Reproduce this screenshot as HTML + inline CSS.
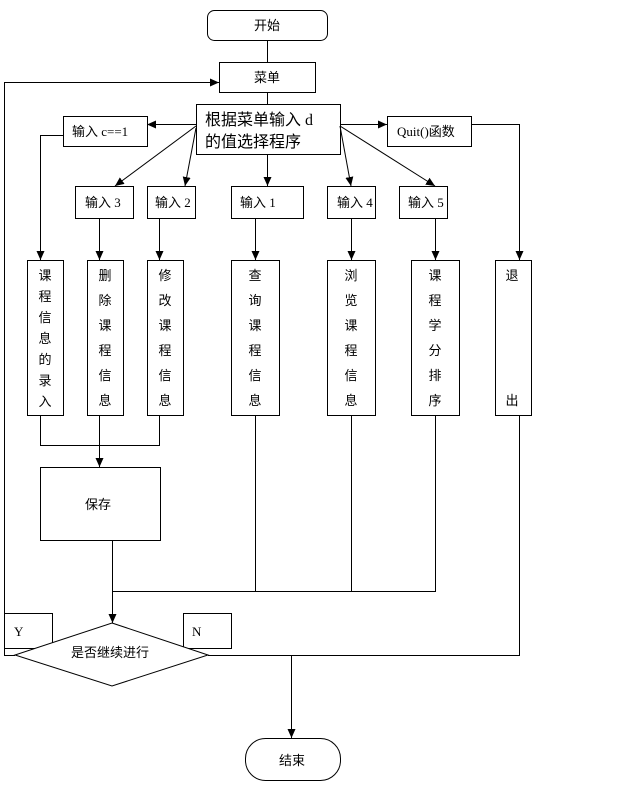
<!DOCTYPE html>
<html><head><meta charset="utf-8"><style>
body{margin:0;background:#fff;}
svg text{font-family:"Liberation Serif","Noto Sans CJK SC",serif;fill:#000;}
</style></head><body>
<svg width="627" height="783" viewBox="0 0 627 783" xmlns="http://www.w3.org/2000/svg">
<defs><marker id="a" markerWidth="10" markerHeight="10" refX="9" refY="5" orient="auto" markerUnits="userSpaceOnUse"><path d="M0,1 L9,5 L0,9 z" fill="#000"/></marker></defs>
<g stroke="#000" stroke-width="1" fill="#fff">
<rect x="207.5" y="10.5" width="120" height="30" rx="7"/>
<rect x="219.5" y="62.5" width="96" height="30"/>
<rect x="196.5" y="104.5" width="144" height="50"/>
<rect x="63.5" y="116.5" width="84" height="30"/>
<rect x="387.5" y="116.5" width="84" height="30"/>
<rect x="75.5" y="186.5" width="58" height="32"/>
<rect x="147.5" y="186.5" width="48" height="32"/>
<rect x="231.5" y="186.5" width="72" height="32"/>
<rect x="327.5" y="186.5" width="48" height="32"/>
<rect x="399.5" y="186.5" width="48" height="32"/>
<rect x="27.5" y="260.5" width="36" height="155"/>
<rect x="87.5" y="260.5" width="36" height="155"/>
<rect x="147.5" y="260.5" width="36" height="155"/>
<rect x="231.5" y="260.5" width="48" height="155"/>
<rect x="327.5" y="260.5" width="48" height="155"/>
<rect x="411.5" y="260.5" width="48" height="155"/>
<rect x="495.5" y="260.5" width="36" height="155"/>
<rect x="40.5" y="467.5" width="120" height="73"/>
<rect x="4.5" y="613.5" width="48" height="35"/>
<rect x="183.5" y="613.5" width="48" height="35"/>
<polygon points="112,623 208,655 112,686 15,655"/>
<rect x="245.5" y="738.5" width="95" height="42" rx="20"/>
</g>
<g stroke="#000" stroke-width="1" fill="none">
<line x1="267.5" y1="40" x2="267.5" y2="62"/>
<line x1="267.5" y1="92" x2="267.5" y2="104"/>
<line x1="196" y1="124.5" x2="147" y2="124.5" marker-end="url(#a)"/>
<line x1="340" y1="124.5" x2="387" y2="124.5" marker-end="url(#a)"/>
<line x1="196" y1="126" x2="115" y2="186" marker-end="url(#a)"/>
<line x1="196" y1="128" x2="185" y2="186" marker-end="url(#a)"/>
<line x1="267.5" y1="154" x2="267.5" y2="186" marker-end="url(#a)"/>
<line x1="340" y1="126" x2="351" y2="186" marker-end="url(#a)"/>
<line x1="340" y1="126" x2="435" y2="186" marker-end="url(#a)"/>
<polyline points="63,135.5 40.5,135.5 40.5,260" marker-end="url(#a)"/>
<polyline points="471,124.5 519.5,124.5 519.5,260" marker-end="url(#a)"/>
<line x1="99.5" y1="218" x2="99.5" y2="260" marker-end="url(#a)"/>
<line x1="159.5" y1="218" x2="159.5" y2="260" marker-end="url(#a)"/>
<line x1="255.5" y1="218" x2="255.5" y2="260" marker-end="url(#a)"/>
<line x1="351.5" y1="218" x2="351.5" y2="260" marker-end="url(#a)"/>
<line x1="435.5" y1="218" x2="435.5" y2="260" marker-end="url(#a)"/>
<polyline points="40.5,415 40.5,445.5 159.5,445.5 159.5,415"/>
<line x1="99.5" y1="415" x2="99.5" y2="467" marker-end="url(#a)"/>
<line x1="112.5" y1="540" x2="112.5" y2="623" marker-end="url(#a)"/>
<polyline points="112.5,591.5 435.5,591.5 435.5,415"/>
<line x1="255.5" y1="415" x2="255.5" y2="591"/>
<line x1="351.5" y1="415" x2="351.5" y2="591"/>
<polyline points="15,655.5 4.5,655.5 4.5,82.5 219,82.5" marker-end="url(#a)"/>
<polyline points="208,655.5 519.5,655.5 519.5,415"/>
<line x1="291.5" y1="655" x2="291.5" y2="738" marker-end="url(#a)"/>
</g>
<g font-size="13">
<text x="267" y="30" text-anchor="middle">开始</text>
<text x="267" y="82" text-anchor="middle">菜单</text>
<text x="205" y="125" font-size="16">根据菜单输入 d</text>
<text x="205" y="147" font-size="16">的值选择程序</text>
<text x="72" y="136">输入 c==1</text>
<text x="397" y="136">Quit()函数</text>
<text x="85" y="207">输入 3</text>
<text x="155" y="207">输入 2</text>
<text x="240" y="207">输入 1</text>
<text x="337" y="207">输入 4</text>
<text x="408" y="207">输入 5</text>
<text x="45" y="280" text-anchor="middle">课</text><text x="45" y="301" text-anchor="middle">程</text><text x="45" y="322" text-anchor="middle">信</text><text x="45" y="343" text-anchor="middle">息</text><text x="45" y="364" text-anchor="middle">的</text><text x="45" y="385" text-anchor="middle">录</text><text x="45" y="406" text-anchor="middle">入</text>
<text x="105" y="280" text-anchor="middle">删</text><text x="105" y="305" text-anchor="middle">除</text><text x="105" y="330" text-anchor="middle">课</text><text x="105" y="355" text-anchor="middle">程</text><text x="105" y="380" text-anchor="middle">信</text><text x="105" y="405" text-anchor="middle">息</text>
<text x="165" y="280" text-anchor="middle">修</text><text x="165" y="305" text-anchor="middle">改</text><text x="165" y="330" text-anchor="middle">课</text><text x="165" y="355" text-anchor="middle">程</text><text x="165" y="380" text-anchor="middle">信</text><text x="165" y="405" text-anchor="middle">息</text>
<text x="255" y="280" text-anchor="middle">查</text><text x="255" y="305" text-anchor="middle">询</text><text x="255" y="330" text-anchor="middle">课</text><text x="255" y="355" text-anchor="middle">程</text><text x="255" y="380" text-anchor="middle">信</text><text x="255" y="405" text-anchor="middle">息</text>
<text x="351" y="280" text-anchor="middle">浏</text><text x="351" y="305" text-anchor="middle">览</text><text x="351" y="330" text-anchor="middle">课</text><text x="351" y="355" text-anchor="middle">程</text><text x="351" y="380" text-anchor="middle">信</text><text x="351" y="405" text-anchor="middle">息</text>
<text x="435" y="280" text-anchor="middle">课</text><text x="435" y="305" text-anchor="middle">程</text><text x="435" y="330" text-anchor="middle">学</text><text x="435" y="355" text-anchor="middle">分</text><text x="435" y="380" text-anchor="middle">排</text><text x="435" y="405" text-anchor="middle">序</text>
<text x="512" y="280" text-anchor="middle">退</text><text x="512" y="405" text-anchor="middle">出</text>
<text x="98" y="509" text-anchor="middle">保存</text>
<text x="14" y="636">Y</text>
<text x="192" y="636">N</text>
<text x="110" y="657" text-anchor="middle">是否继续进行</text>
<text x="292" y="765" text-anchor="middle">结束</text>
</g>
</svg>
</body></html>
